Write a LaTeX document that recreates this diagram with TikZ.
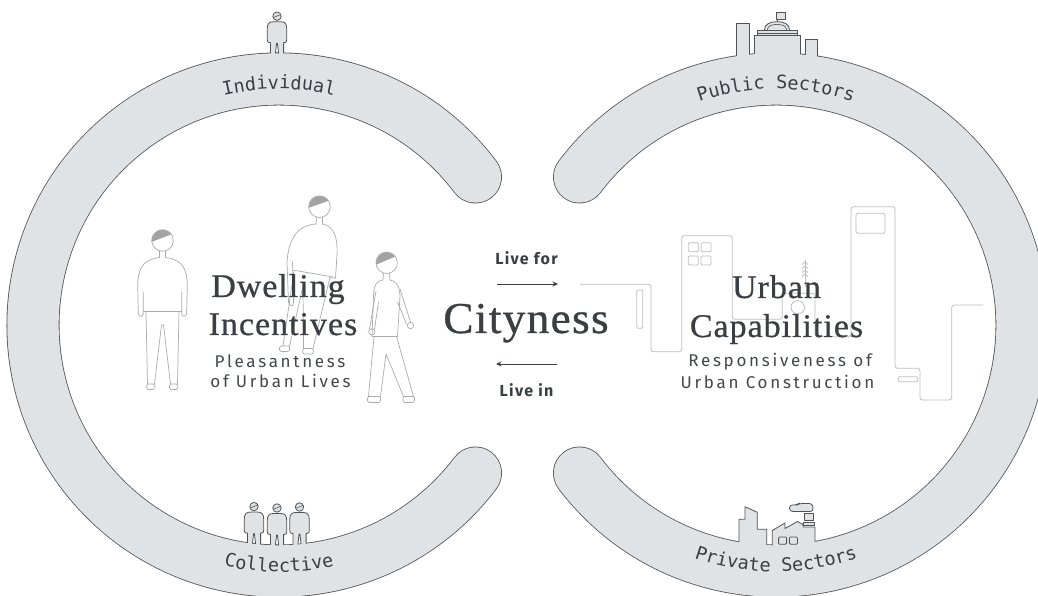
\documentclass[tikz,border=0pt]{standalone}
\usepackage{fontspec}
\setmainfont{Liberation Serif}
\newfontfamily\headfont[FakeBold=0.7, LetterSpace=3, FakeStretch=1.03]{Liberation Serif}
\newfontfamily\subfont[LetterSpace=16]{Fira Sans}
\newfontfamily\livefont[LetterSpace=8]{Fira Sans}
\newfontfamily\arcfont{DejaVu Sans Mono}
\usetikzlibrary{arrows.meta,decorations.text}

\definecolor{bandfill}{HTML}{DFE3E5}
\definecolor{bandline}{HTML}{505356}
\definecolor{ink}{HTML}{3B3E42}
\definecolor{subink}{HTML}{43464A}
\definecolor{figline}{HTML}{ABABAB}
\definecolor{hair}{HTML}{A3A3A3}
\definecolor{cityline}{HTML}{BDBDBD}

\tikzset{
  bandedge/.style={draw=bandline, line width=53pt, line cap=round},
  bandbody/.style={draw=bandfill, line width=51.4pt, line cap=round},
  icon/.style={fill=bandfill, draw=bandline, line width=0.8pt, line join=round},
  iconline/.style={draw=bandline, line width=0.8pt},
  person/.style={draw=figline, line width=0.7pt, line cap=round, line join=round},
  skyline/.style={draw=cityline, line width=0.8pt, rounded corners=2.5pt},
  titletext/.style={font=\headfont\fontsize{33}{38}\selectfont, text=ink, inner sep=0pt},
  citytext/.style={font=\headfont\fontsize{44}{50}\selectfont, text=ink, inner sep=0pt},
  subtext/.style={font=\subfont\fontsize{17}{20}\selectfont, text=subink, inner sep=0pt},
  livetext/.style={font=\livefont\bfseries\fontsize{16}{20}\selectfont, text=ink, inner sep=0pt},
  flow/.style={draw=ink, line width=0.9pt, -{Stealth[length=5.5pt,width=5pt]}},
  arclabel/.style={decorate, decoration={text along path, text align=center,
    text={|\arcfont\fontsize{18.5}{20}\selectfont\color{ink}|#1}}},
  % small standing figure; the origin is where its feet meet the ring
  personicon/.pic={
    \path[icon] (-6.6,-4) -- (-6.6,10.5) .. controls (-9.8,10.5) and (-9.8,12) .. (-9.8,16) -- (-9.8,24)
      .. controls (-9.8,30) and (-7.5,31.5) .. (-3.5,31.5) -- (3.5,31.5)
      .. controls (7.5,31.5) and (9.8,30) .. (9.8,24) -- (9.8,16)
      .. controls (9.8,12) and (9.8,10.5) .. (6.6,10.5) -- (6.6,-4) -- (1.6,-4) -- (1.6,0) -- (0.4,10)
      -- (-0.4,10) -- (-1.6,0) -- (-1.6,-4) -- cycle;
    \path[icon] (0,37) circle (4.2);
    \draw[iconline, line width=0.6pt] (-3.2,35.8) -- (3.4,38.6);
  }
}

\begin{document}
\begin{tikzpicture}[x=1pt,y=1pt]
\clip (0,0) rectangle (1038,596);
\fill[white] (0,0) rectangle (1038,596);

% centres of the two rings
\coordinate (lc) at (279,271);
\coordinate (rc) at (776,271);

% dark rims of the rings
\path[bandedge] (lc) ++(37:246) arc[start angle=37, end angle=323, radius=246];
\path[bandedge] (rc) ++(143:246) arc[start angle=143, end angle=-143, radius=246];

\begin{scope}[yshift=596pt, yscale=-1]
  % individual
  \pic (indiv) at (277,53.2) {personicon};
  % collective
  \pic (coll1) at (254,543.6) {personicon};
  \pic (coll2) at (277,545) {personicon};
  \pic (coll3) at (299.5,544) {personicon};

  % public sectors skyline
  \path[icon] (736.7,64) -- (736.7,23.3) -- (749.3,23.3) -- (749.3,64) -- cycle;
  \path[icon] (754.3,64) -- (754.3,35) -- (800,35) -- (800,64) -- cycle;
  \path[icon] (805.7,64) -- (805.7,39.3) -- (817.7,39.3) -- (817.7,64) -- cycle;
  \path[icon] (764.3,30.7) .. controls (764.3,24) and (770,21.7) .. (777,21.7)
     .. controls (784,21.7) and (789.7,24) .. (789.7,30.7) -- cycle;
  \draw[iconline, line width=0.6pt] (767.3,30.7) .. controls (767.3,26) and (771.5,24.4) .. (777,24.4)
     .. controls (782.5,24.4) and (786.7,26) .. (786.7,30.7);
  \path[icon] (757,35) -- (757,30.7) -- (797.3,30.7) -- (797.3,35) -- cycle;
  \draw[iconline, line width=0.6pt] (757,33.2) -- (797.3,33.2);
  \draw[iconline] (777.3,21.7) -- (777.3,19.6);
  \path[icon] (776.3,12.4) rectangle (785,19.6);

  % private sectors skyline
  \path[icon] (739,552) -- (739,519.3) -- (745,519.3) -- (745,506.7) -- (757.3,512.3)
     -- (757.3,529.3) -- (766.7,529.3) -- (766.7,552) -- cycle;
  \path[icon] (772.3,552) -- (772.3,530.5) -- (785,523) -- (785,528.5) -- (797.5,521.5)
     -- (803,524.5) -- (803,527) -- (815,527) -- (815,552) -- cycle;
  \path[icon] (803.5,522.6) rectangle (814.5,525.2);
  \path[icon] (804,513.5) rectangle (813.5,520);
  \path[icon, rounded corners=3pt] (789.5,511.5) -- (789.5,505) -- (797,505) -- (799,503.5)
     -- (812.5,503.5) -- (813.3,511.5) -- cycle;
\end{scope}

% light bodies of the rings
\path[bandbody] (lc) ++(37:246) arc[start angle=37, end angle=323, radius=246];
\path[bandbody] (rc) ++(143:246) arc[start angle=143, end angle=-143, radius=246];

% ring labels
\path[arclabel=Individual] (lc) ++(120:236) arc[start angle=120, end angle=60, radius=236];
\path[arclabel=Collective] (lc) ++(240:247) arc[start angle=240, end angle=300, radius=247];
\path[arclabel=Public Sectors] (rc) ++(120:236) arc[start angle=120, end angle=60, radius=236];
\path[arclabel=Private Sectors] (rc) ++(240:247) arc[start angle=240, end angle=300, radius=247];

\begin{scope}[yshift=596pt, yscale=-1]
  % factory windows
  \draw[iconline, rounded corners=1pt] (778.6,537) rectangle (786.6,544.2);
  \draw[iconline, rounded corners=1pt] (789.4,537) rectangle (797.4,544.2);

  % standing person
  \begin{scope}
    \clip (162.5,240.5) circle (10.8);
    \fill[hair] (150,242.5) -- (175,233) -- (175,228) -- (150,228) -- cycle;
  \end{scope}
  \draw[person] (162.5,240.5) circle (10.8);
  \draw[person] (159.5,251) -- (159.5,257.5) (165.5,251) -- (165.5,257.5);
  \draw[person] (159.5,257.5) .. controls (147,259) and (138,264) .. (137.7,285) -- (138.3,313)
     .. controls (138.5,317.5) and (143.5,317.5) .. (143.3,313) -- (143.3,292);
  \draw[person] (165.5,257.5) .. controls (178,259) and (187,264) .. (187.3,285) -- (186.7,313)
     .. controls (186.5,317.5) and (181.5,317.5) .. (181.7,313) -- (181.7,292);
  \draw[person] (143.3,311.7) -- (181.7,311.7);
  \draw[person] (146,311.7) -- (147.5,384) (154.5,384) -- (161.5,325) -- (163.5,325) -- (170.5,384)
     (179,311.7) -- (177.5,384);
  \draw[person, rounded corners=1.5pt] (146.7,384) rectangle (155,389.5);
  \draw[person, rounded corners=1.5pt] (169.5,384) rectangle (177.7,389.5);

  % leaning person
  \begin{scope}
    \clip (319.5,206.7) circle (10.8);
    \fill[hair] (307,208.5) -- (332,199.5) -- (332,194) -- (307,194) -- cycle;
  \end{scope}
  \draw[person] (319.5,206.7) circle (10.8);
  \draw[person] (316.5,217.3) -- (316,224) (322.5,217.3) -- (322.5,224);
  \draw[person] (316,224) .. controls (300,225) and (289,235) .. (287,262) -- (288.5,302)
     .. controls (289,307) and (294,307) .. (293.5,302) -- (292.5,262);
  \draw[person] (322.5,224) .. controls (334,226) and (338,238) .. (337,255) -- (335.5,278)
     -- (331,278);
  \draw[person] (292.5,270) -- (333,277);
  \draw[person] (294,271) -- (283,346) (289.5,346) -- (303,286) -- (303.5,348.5)
     (330,277) -- (313,348.5);
  \draw[person, rounded corners=1.5pt] (279.5,346) rectangle (289.5,351.5);
  \draw[person, rounded corners=1.5pt] (302.7,348.5) rectangle (313.3,354);

  % walking person
  \begin{scope}
    \clip (386.7,262.8) circle (10.7);
    \fill[hair] (374,265.5) -- (399,255) -- (399,250) -- (374,250) -- cycle;
  \end{scope}
  \draw[person] (386.7,262.8) circle (10.7);
  \draw[person] (383.5,273.4) -- (383,280) (389.5,273.4) -- (390,280);
  \draw[person] (383,280) .. controls (377,281) and (374,284) .. (373.5,295) -- (372,336.5)
     -- (397.5,336.5);
  \draw[person] (390,280) .. controls (396,281) and (399.5,285) .. (400,296) -- (397.5,336.5);
  \draw[person] (400,289) -- (410.5,322) (397.5,302) -- (406.5,324);
  \draw[person] (410.5,325.5) circle (3.2);
  \draw[person] (376,291) -- (369.5,329) (378.5,302) -- (374.5,329.5);
  \draw[person] (371.8,331.8) circle (3.2);
  \draw[person] (374,336.5) -- (368.5,396.5) (380.5,396.5) -- (386,354) -- (403.5,396.5)
     (396.5,336.5) -- (413.5,396.5);
  \draw[person, rounded corners=1.5pt] (367.5,396.5) rectangle (380.5,402.5);
  \draw[person, rounded corners=1.5pt] (403,396.5) rectangle (414.5,402.5);

  % city outline
  \draw[skyline] (580,284.3) -- (651,284.3) -- (651,351.7) -- (681.7,351.7) -- (681.7,235.7)
     -- (732.3,235.7) -- (732.3,319.3) -- (782.3,319.3) -- (782.3,293.3) -- (815,293.3)
     -- (815,336.7) -- (851,336.7) -- (851,206.7) -- (895,206.7) -- (895,368.3) -- (920,368.3)
     -- (920,400) -- (951.7,400) -- (951.7,305) -- (983.3,305);
  \draw[skyline, rounded corners=1.2pt] (636.7,290) rectangle (642.7,328.3);
  \draw[skyline, rounded corners=1.2pt] (688.3,242.7) rectangle (698.3,251.7);
  \draw[skyline, rounded corners=1.2pt] (701,242.7) rectangle (711,251.7);
  \draw[skyline, rounded corners=1.2pt] (688.3,256) rectangle (698.3,265);
  \draw[skyline, rounded corners=1.2pt] (701,256) rectangle (711,265);
  \draw[skyline, rounded corners=1.5pt] (856,213.3) rectangle (885,233.3);
  \draw[skyline, rounded corners=1.2pt] (898.3,376.7) rectangle (917.7,381.7);
  \draw[skyline] (797.7,307.3) circle (6.7);
  \draw[skyline] (805,260) -- (805,287);
  \foreach \yy in {262,266,270,274}
    \draw[skyline, rounded corners=0pt] (802,\yy+2.5) -- (805,\yy) -- (808,\yy+2.5);

  % texts
  \node[titletext, anchor=base] (dwell) at (278,297) {Dwelling};
  \node[titletext, anchor=base] (incent) at (283,335) {Incentives};
  \node[subtext, anchor=base] (pleas) at (280,368) {Pleasantness};
  \node[subtext, anchor=base] (lives) at (280.5,388) {of Urban Lives};
  \node[citytext, anchor=base] (city) at (526,333) {Cityness};
  \node[livetext, anchor=base] (livefor) at (526.5,265) {Live for};
  \node[livetext, anchor=base] (livein) at (526.5,397) {Live in};
  \node[titletext, anchor=base] (urban) at (776.5,298) {Urban};
  \node[titletext, anchor=base] (capab) at (776.5,337) {Capabilities};
  \node[subtext, anchor=base] (resp) at (780,367) {Responsiveness of};
  \node[subtext, anchor=base] (constr) at (777.5,389) {Urban Construction};

  % flow arrows
  \coordinate (forA) at (497,284);
  \coordinate (forB) at (558,284);
  \coordinate (inA) at (557,364);
  \coordinate (inB) at (496,364);
  \draw[flow] (forA) -- (forB);
  \draw[flow] (inA) -- (inB);
\end{scope}
\end{tikzpicture}
\end{document}
